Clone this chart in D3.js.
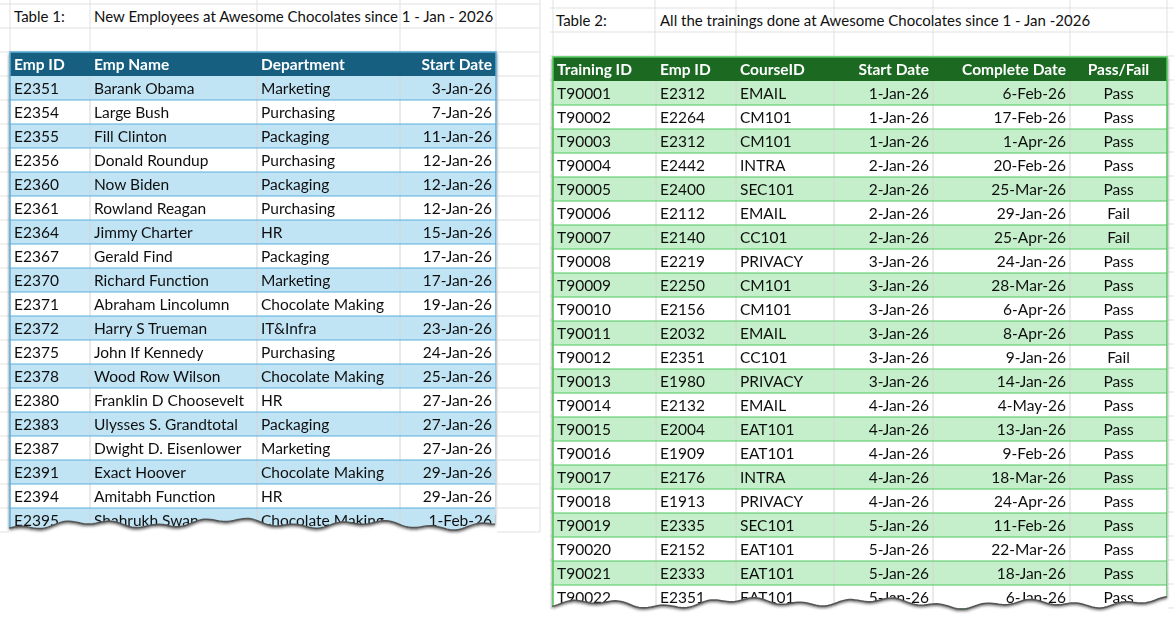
<!DOCTYPE html><html><head><meta charset="utf-8"><script src="https://cdn.jsdelivr.net/npm/d3@7"></script>
<style>body{margin:0;background:#fff}svg{font-family:Lato,"Noto Sans",sans-serif}</style></head><body><svg id="c" width="1174" height="619"></svg>
<script>
const t1Cols=["Emp ID","Emp Name","Department","Start Date"];
const t1Ids=["E2351","E2354","E2355","E2356","E2360","E2361","E2364","E2367","E2370","E2371","E2372","E2375","E2378","E2380","E2383","E2387","E2391","E2394","E2395"];
const t1Names=["Barank Obama","Large Bush","Fill Clinton","Donald Roundup","Now Biden","Rowland Reagan","Jimmy Charter","Gerald Find","Richard Function","Abraham Lincolumn","Harry S Trueman","John If Kennedy","Wood Row Wilson","Franklin D Choosevelt","Ulysses S. Grandtotal","Dwight D. Eisenlower","Exact Hoover","Amitabh Function","Shahrukh Swan"];
const t1Depts=["Marketing","Purchasing","Packaging","Purchasing","Packaging","Purchasing","HR","Packaging","Marketing","Chocolate Making","IT&Infra","Purchasing","Chocolate Making","HR","Packaging","Marketing","Chocolate Making","HR","Chocolate Making"];
const t1Dates=["3-Jan-26","7-Jan-26","11-Jan-26","12-Jan-26","12-Jan-26","12-Jan-26","15-Jan-26","17-Jan-26","17-Jan-26","19-Jan-26","23-Jan-26","24-Jan-26","25-Jan-26","27-Jan-26","27-Jan-26","27-Jan-26","29-Jan-26","29-Jan-26","1-Feb-26"];
const t2Cols=["Training ID","Emp ID","CourseID","Start Date","Complete Date","Pass/Fail"];
const t2Tids=["T90001","T90002","T90003","T90004","T90005","T90006","T90007","T90008","T90009","T90010","T90011","T90012","T90013","T90014","T90015","T90016","T90017","T90018","T90019","T90020","T90021","T90022"];
const t2Emps=["E2312","E2264","E2312","E2442","E2400","E2112","E2140","E2219","E2250","E2156","E2032","E2351","E1980","E2132","E2004","E1909","E2176","E1913","E2335","E2152","E2333","E2351"];
const t2Courses=["EMAIL","CM101","CM101","INTRA","SEC101","EMAIL","CC101","PRIVACY","CM101","CM101","EMAIL","CC101","PRIVACY","EMAIL","EAT101","EAT101","INTRA","PRIVACY","SEC101","EAT101","EAT101","EAT101"];
const t2Starts=["1-Jan-26","1-Jan-26","1-Jan-26","2-Jan-26","2-Jan-26","2-Jan-26","2-Jan-26","3-Jan-26","3-Jan-26","3-Jan-26","3-Jan-26","3-Jan-26","3-Jan-26","4-Jan-26","4-Jan-26","4-Jan-26","4-Jan-26","4-Jan-26","5-Jan-26","5-Jan-26","5-Jan-26","5-Jan-26"];
const t2Ends=["6-Feb-26","17-Feb-26","1-Apr-26","20-Feb-26","25-Mar-26","29-Jan-26","25-Apr-26","24-Jan-26","28-Mar-26","6-Apr-26","8-Apr-26","9-Jan-26","14-Jan-26","4-May-26","13-Jan-26","9-Feb-26","18-Mar-26","24-Apr-26","11-Feb-26","22-Mar-26","18-Jan-26","6-Jan-26"];
const t2Res=["Pass","Pass","Pass","Pass","Pass","Fail","Fail","Pass","Pass","Pass","Pass","Fail","Pass","Pass","Pass","Pass","Pass","Pass","Pass","Pass","Pass","Pass"];

const svg=d3.select("#c");
const defs=svg.append("defs");
const f=defs.append("filter").attr("id","sh").attr("x","-5%").attr("y","-5%").attr("width","110%").attr("height","120%");
f.append("feDropShadow").attr("dx",0).attr("dy",2).attr("stdDeviation",1.5).attr("flood-color","#000").attr("flood-opacity",0.6);

function tear(x0,x1,yb,seed){
  const pts=[];for(let x=x0;x<=x1;x+=3){pts.push([x,yb+3*Math.sin(x/23+seed)+2*Math.sin(x/7.3+seed*2)+1.5*Math.sin(x/61+seed)]);}
  return pts;
}
function sheet(cfg){
  const g=svg.append("g");
  const gl=g.append("g").attr("stroke","#e1e1e1");
  cfg.gridX.forEach(x=>gl.append("line").attr("x1",x).attr("x2",x).attr("y1",0).attr("y2",cfg.gridBottom));
  d3.range(cfg.gridTop,cfg.gridBottom+1,24).forEach(y=>gl.append("line").attr("x1",cfg.sx0).attr("x2",cfg.sx1).attr("y1",y).attr("y2",y));
  g.append("text").attr("x",cfg.titleX[0]).attr("y",cfg.titleY).attr("font-size",15).attr("fill","#111").text(cfg.label);
  g.append("text").attr("x",cfg.titleX[1]).attr("y",cfg.titleY).attr("font-size",15).attr("fill","#111").text(cfg.title);
  const rows=cfg.data.length;
  const y=d3.scaleBand().domain(d3.range(rows+1)).range([cfg.top,cfg.top+24*(rows+1)]);
  const pts=tear(cfg.edges[0]-1,cfg.edges[cfg.edges.length-1]+1,cfg.bottom,cfg.seed);
  const clipPath="M"+(cfg.edges[0]-1)+","+(cfg.top-1)+"L"+(cfg.edges[cfg.edges.length-1]+1)+","+(cfg.top-1)+"L"+pts.slice().reverse().map(p=>p.join(",")).join("L")+"Z";
  g.append("rect").attr("x",cfg.edges[0]-1).attr("y",cfg.top).attr("width",cfg.edges[cfg.edges.length-1]-cfg.edges[0]+2).attr("height",cfg.gridBottom-cfg.top+2).attr("fill","#fff");
  const id="cl"+cfg.seed;
  defs.append("clipPath").attr("id",id).append("path").attr("d",clipPath);
  const tg=g.append("g").attr("filter","url(#sh)").append("g").attr("clip-path",`url(#${id})`);
  const W=cfg.edges[cfg.edges.length-1]-cfg.edges[0];
  tg.append("rect").attr("x",cfg.edges[0]).attr("y",cfg.top).attr("width",W).attr("height",24*(rows+1)).attr("fill","#fff");
  tg.append("rect").attr("x",cfg.edges[0]).attr("y",y(0)).attr("width",W).attr("height",24).attr("fill",cfg.head);
  cfg.data.forEach((r,i)=>{
    if(i%2===0) tg.append("rect").attr("x",cfg.edges[0]).attr("y",y(i+1)).attr("width",W).attr("height",24).attr("fill",cfg.band);
  });
  cfg.edges.slice(1,-1).forEach(e=>tg.append("line").attr("x1",e).attr("x2",e).attr("y1",y(1)).attr("y2",cfg.top+24*(rows+1)).attr("stroke","#d4d4d4"));
  d3.range(1,rows+1).forEach(i=>tg.append("line").attr("x1",cfg.edges[0]).attr("x2",cfg.edges[0]+W).attr("y1",y(i)+24).attr("y2",y(i)+24).attr("stroke",cfg.border));
  tg.append("rect").attr("x",cfg.edges[0]).attr("y",cfg.top).attr("width",W).attr("height",24*(rows+1)).attr("fill","none").attr("stroke",cfg.border).attr("stroke-width",1.5);
  const tx=(a,c)=>a[c]==="r"?cfg.edges[c+1]-4:a[c]==="m"?(cfg.edges[c]+cfg.edges[c+1])/2:cfg.edges[c]+4;
  const an=(a,c)=>a[c]==="r"?"end":a[c]==="m"?"middle":"start";
  cfg.cols.forEach((c,ci)=>tg.append("text").attr("x",tx(cfg.headAlign,ci)).attr("y",y(0)+18).attr("text-anchor",an(cfg.headAlign,ci)).attr("font-size",15.5).attr("font-weight",700).attr("fill","#fff").text(c));
  cfg.data.forEach((r,i)=>r.forEach((v,ci)=>tg.append("text").attr("x",tx(cfg.align,ci)).attr("y",y(i+1)+18).attr("text-anchor",an(cfg.align,ci)).attr("font-size",15.5).attr("fill","#111").text(v)));
  g.append("path").attr("d","M"+pts.map(p=>p.join(",")).join("L")).attr("fill","none").attr("stroke","#555").attr("stroke-width",1.5);
}
sheet({label:"Table 1:",title:"New Employees at Awesome Chocolates since 1 - Jan - 2026",titleX:[14,94],titleY:22,
  gridX:[10,90,257,400,496,540],sx0:0,sx1:540,gridTop:4,gridBottom:532,top:52,bottom:524,seed:1,
  edges:[10,90,257,400,496],cols:t1Cols,align:["l","l","l","r"],headAlign:["l","l","l","r"],
  head:"#185f81",band:"#c1e4f5",border:"#5aaedc",
  data:t1Ids.map((d,i)=>[d,t1Names[i],t1Depts[i],t1Dates[i]])});
sheet({label:"Table 2:",title:"All the trainings done at Awesome Chocolates since 1 - Jan -2026",titleX:[556,660],titleY:26,
  gridX:[553,655,736,834,933,1070,1167],sx0:550,sx1:1174,gridTop:8,gridBottom:610,top:57,bottom:603,seed:4,
  edges:[553,656,736,834,933,1070,1167],cols:t2Cols,align:["l","l","l","r","r","m"],headAlign:["l","l","l","r","r","m"],
  head:"#1b6b24",band:"#c5efcb",border:"#4cc85a",
  data:t2Tids.map((d,i)=>[d,t2Emps[i],t2Courses[i],t2Starts[i],t2Ends[i],t2Res[i]])});
</script></body></html>
